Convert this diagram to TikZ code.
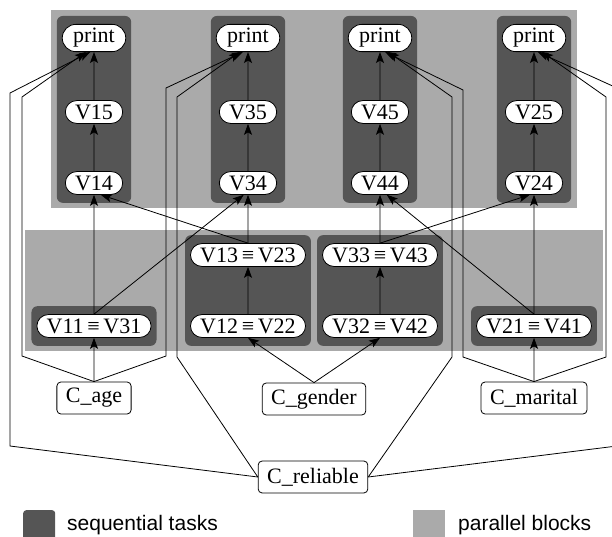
\documentclass[tikz,border=0pt]{standalone}
\usepackage{fontspec}
\setmainfont{Liberation Serif}
\newfontfamily\legendfont{Liberation Sans}
\usetikzlibrary{arrows.meta, shapes.misc, fit, backgrounds}
\definecolor{seqgray}{HTML}{555555}
\definecolor{pargray}{HTML}{AAAAAA}

\begin{document}
\begin{tikzpicture}[
    x=1bp, y=-1bp,
    every node/.style={font=\fontsize{22bp}{26bp}\selectfont},
    task/.style={rounded rectangle, draw, fill=white, line width=0.8bp, inner xsep=7bp, inner ysep=4bp, minimum height=22bp},
    cond/.style={draw, fill=white, rounded corners=4bp, line width=0.8bp, inner xsep=9bp, minimum height=32bp},
    seqblock/.style={fill=seqgray, rounded corners=6bp, inner xsep=5bp, inner ysep=8bp},
    parblock/.style={fill=pargray, inner xsep=11bp, inner ysep=13.5bp},
    arrow/.style={-{Stealth[length=11bp, width=8bp, inset=2.5bp]}, line width=0.8bp},
    legend/.style={font=\legendfont\fontsize{21bp}{25bp}\selectfont, anchor=base west, inner sep=0pt}
]
    \useasboundingbox (0,0) rectangle (612,537);

    % Output columns
    \node[task] (print1) at (94,38) {print};
    \node[task] (v15) at (94,112) {V15};
    \node[task] (v14) at (94,183) {V14};
    \node[task] (print2) at (248,38) {print};
    \node[task] (v35) at (248,112) {V35};
    \node[task] (v34) at (248,183) {V34};
    \node[task] (print3) at (380,38) {print};
    \node[task] (v45) at (380,112) {V45};
    \node[task] (v44) at (380,183) {V44};
    \node[task] (print4) at (534,38) {print};
    \node[task] (v25) at (534,112) {V25};
    \node[task] (v24) at (534,183) {V24};

    % Shared tasks
    \node[task] (v11) at (94,326) {V11\,≡\,V31};
    \node[task] (v13) at (248,255) {V13\,≡\,V23};
    \node[task] (v12) at (248,326) {V12\,≡\,V22};
    \node[task] (v33) at (380,255) {V33\,≡\,V43};
    \node[task] (v32) at (380,326) {V32\,≡\,V42};
    \node[task] (v21) at (534,326) {V21\,≡\,V41};

    % Conditions
    \node[cond] (cage) at (94,398) {C\_age};
    \node[cond] (cgender) at (314,399) {C\_gender};
    \node[cond] (cmarital) at (534,398) {C\_marital};
    \node[cond] (creliable) at (313,477) {C\_reliable};

    % Blocks
    \begin{scope}[on background layer]
        \node[parblock, fit=(print1)(print4)(v14)(v24)] (partop) {};
        \node[parblock, fit=(v11)(v13)(v21)] (parlow) {};
        \node[seqblock, fit=(print1)(v14)] (seq1) {};
        \node[seqblock, fit=(print2)(v34)] (seq2) {};
        \node[seqblock, fit=(print3)(v44)] (seq3) {};
        \node[seqblock, fit=(print4)(v24)] (seq4) {};
        \node[seqblock, fit=(v11)] (seq5) {};
        \node[seqblock, fit=(v13)(v12)] (seq6) {};
        \node[seqblock, fit=(v33)(v32)] (seq7) {};
        \node[seqblock, fit=(v21)] (seq8) {};
    \end{scope}

    % Arrows inside columns
    \draw[arrow] (v14) -- (v15);
    \draw[arrow] (v15) -- (print1);
    \draw[arrow] (v34) -- (v35);
    \draw[arrow] (v35) -- (print2);
    \draw[arrow] (v44) -- (v45);
    \draw[arrow] (v45) -- (print3);
    \draw[arrow] (v24) -- (v25);
    \draw[arrow] (v25) -- (print4);
    \draw[arrow] (v12) -- (v13);
    \draw[arrow] (v32) -- (v33);

    % Arrows between layers
    \draw[arrow] (v11) -- (v14);
    \draw[arrow] (v11.north) -- (v34.-110);
    \draw[arrow] (v13) -- (v34);
    \draw[arrow] (v13.north) -- (v14.-60);
    \draw[arrow] (v33) -- (v44);
    \draw[arrow] (v33.north) -- (v24.-110);
    \draw[arrow] (v21) -- (v24);
    \draw[arrow] (v21.north) -- (v44.-60);

    % Condition arrows
    \draw[arrow] (cage) -- (v11);
    \draw[arrow] (cgender.north) -- (v12.south);
    \draw[arrow] (cgender.north) -- (v32.south);
    \draw[arrow] (cmarital) -- (v21);
    \draw[arrow] (cage.north) -- (22,356) -- (22,97) -- (print1.-120);
    \draw[arrow] (cage.north) -- (166,356) -- (166,88) -- (print2.-110);
    \draw[arrow] (cmarital.north) -- (463,357) -- (463,90) -- (print3.-70);
    \draw[arrow] (cmarital.north) -- (606,357) -- (606,97) -- (print4.-60);
    \draw[arrow] (creliable.west) -- (10,446) -- (10,93) -- (print1.-105);
    \draw[arrow] (creliable.west) -- (177,357) -- (177,97) -- (print2.-120);
    \draw[arrow] (creliable.east) -- (452,357) -- (452,97) -- (print3.-60);
    \draw[arrow] (creliable.east) -- (617,446) -- (617,88) -- (print4.-75);

    % Legend
    \node[fill=seqgray, rounded corners=3bp, minimum size=32bp, inner sep=0pt, anchor=north west] (seqkey) at (23,510) {};
    \node[legend] (seqtext) at (67,530) {sequential tasks};
    \node[fill=pargray, minimum size=32bp, inner sep=0pt, anchor=north west] (parkey) at (413,510) {};
    \node[legend] (partext) at (458,530) {parallel blocks};
\end{tikzpicture}
\end{document}
